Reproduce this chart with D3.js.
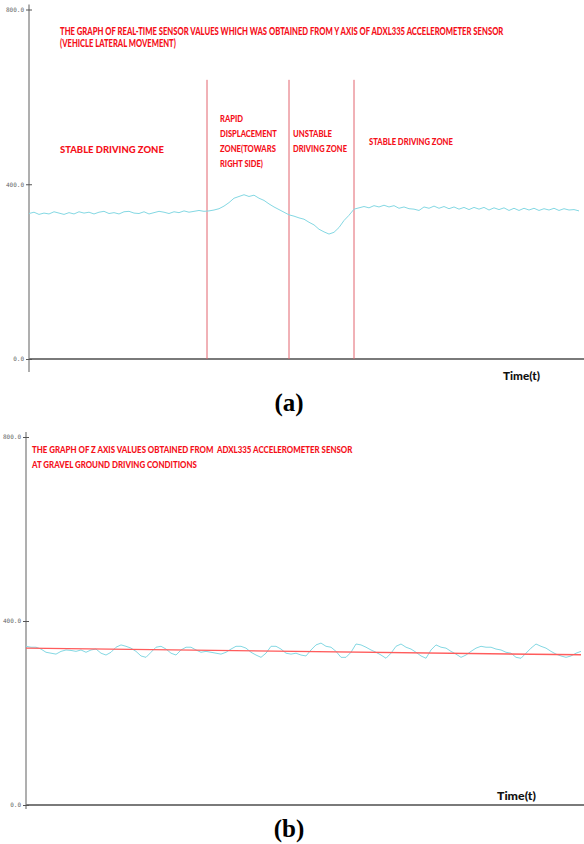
<!DOCTYPE html>
<html><head><meta charset="utf-8">
<script src="https://cdn.jsdelivr.net/npm/d3@7/dist/d3.min.js"></script>
<style>
html,body{margin:0;padding:0;background:#fff;}
svg{display:block;}
.red{font-family:Lato,"Open Sans",sans-serif;font-weight:900;fill:#f5101a;}
.tick text{font-family:"DejaVu Sans Mono",monospace;font-size:6px;fill:#666;}
</style></head>
<body>
<script>
// ---------- DATA ----------
// Panel (a): Y axis sensor values (sample index 0..110)
const yAxisValues = [333,336,331,334,332,337,334,331,335,332,337,334,336,332,336,338,333,335,332,337,338,334,333,337,332,335,338,336,333,337,335,339,336,338,340,338,
  339,341,344,350,358,368,372,376,372,375,368,363,355,348,342,336,330,327,323,320,313,307,297,291,286,290,301,317,329,343,
  346,349,346,351,348,352,348,351,345,348,344,343,340,348,345,350,345,349,344,348,343,347,342,347,343,347,341,346,342,346,
  340,345,340,345,341,345,340,344,341,345,340,344,341,342,339];
const zoneBounds = [35.6, 52, 65];          // sample index of red zone separators
const zoneLines = [
  {t: 6.2,  lines: ["STABLE DRIVING ZONE"]},
  {t: 38.2, lines: ["RAPID","DISPLACEMENT","ZONE(TOWARS","RIGHT SIDE)"]},
  {t: 52.8, lines: ["UNSTABLE","DRIVING ZONE"]},
  {t: 68,   lines: ["STABLE DRIVING ZONE"]}
];
const titleA = ["THE GRAPH OF REAL-TIME SENSOR VALUES WHICH WAS OBTAINED FROM Y AXIS OF ADXL335 ACCELEROMETER SENSOR","(VEHICLE LATERAL MOVEMENT)"];

// Panel (b): Z axis values (sample index 0..111)
const zAxisValues = [345,343,343,339,332,330,328,334,337,336,334,337,332,337,339,330,326,332,343,348,
  345,341,334,324,321,332,343,345,339,330,326,337,343,343,337,332,334,332,330,328,
  332,339,345,345,341,332,326,321,330,345,345,339,330,328,330,326,324,337,348,352,
  345,343,334,321,321,332,350,348,343,337,332,326,319,330,345,350,343,339,332,324,
  319,337,348,343,341,334,328,321,326,334,341,345,343,343,339,337,332,330,321,319,
  330,341,350,345,341,334,328,324,321,324,330,334];
const zTrendT = [0, 111];
const zTrendV = [341, 326.5];
const titleB = ["THE GRAPH OF Z AXIS VALUES OBTAINED FROM  ADXL335 ACCELEROMETER SENSOR","AT GRAVEL GROUND DRIVING CONDITIONS"];

const yTicks = [0, 400, 800];
const xLabel = "Time(t)";
const captions = ["(a)", "(b)"];

// ---------- DRAW ----------
const W = 584, H = 844;
const svg = d3.select("body").append("svg").attr("width", W).attr("height", H);
const cyan = "#84d8e3", zoneRed = "#e2646e", axisGray = "#7a7a7a";

// condensed text: draw at natural size, then squeeze horizontally to target width
function condensed(g, str, x, y, size, width, cls, extra){
  const t = g.append("text").attr("class", cls).attr("font-size", size).attr("x", 0).attr("y", 0).text(str);
  if (extra) extra(t);
  t.attr("xml:space","preserve");
  const len = t.node().getComputedTextLength();
  t.attr("transform", `translate(${x},${y}) scale(${width/len},1)`);
  return t;
}

function panel(cfg){
  const g = svg.append("g");
  const x = d3.scaleLinear().domain(cfg.xDomain).range(cfg.xRange);
  const y = d3.scaleLinear().domain([0, 800]).range(cfg.yRange);
  g.append("line").attr("x1", cfg.xRange[0]).attr("x2", cfg.xRange[0])
    .attr("y1", cfg.yRange[1]-5).attr("y2", cfg.yRange[0]+cfg.axisExt)
    .attr("stroke", axisGray).attr("stroke-width", 1.2);
  g.append("line").attr("x1", cfg.xRange[0]).attr("x2", W)
    .attr("y1", y(0)).attr("y2", y(0))
    .attr("stroke", axisGray).attr("stroke-width", 2);
  const ax = d3.axisLeft(y).tickValues(yTicks).tickFormat(d => d.toFixed(1)).tickSizeInner(3).tickSizeOuter(0).tickPadding(2);
  const axg = g.append("g").attr("transform", `translate(${cfg.xRange[0]},0)`).call(ax);
  axg.select(".domain").remove();
  axg.selectAll(".tick line").attr("x2", 3).attr("x1", -3).attr("stroke", "#555");
  return {g, x, y};
}

// Panel (a)
const A = panel({xDomain:[0,110], xRange:[29,579], yRange:[359,9.5], axisExt:13});
A.g.selectAll(".zone").data(zoneBounds).join("line")
  .attr("x1", d => A.x(d)).attr("x2", d => A.x(d))
  .attr("y1", A.y(639)).attr("y2", A.y(0))
  .attr("stroke", zoneRed).attr("stroke-width", 1);
A.g.append("path").datum(yAxisValues)
  .attr("fill","none").attr("stroke",cyan).attr("stroke-width",1)
  .attr("d", d3.line().x((d,i)=>A.x(i)).y(d=>A.y(d)));

const titleAW = [444, 116];
titleA.forEach((s,i)=>condensed(A.g, s, 60, 34.5+i*12.2, 10.5, titleAW[i], "red"));

const zoneW = [{"STABLE DRIVING ZONE":104},{"RAPID":23,"DISPLACEMENT":57,"ZONE(TOWARS":56,"RIGHT SIDE)":43},{"UNSTABLE":39,"DRIVING ZONE":54},{"STABLE DRIVING ZONE":84}];
const zoneY0 = [153, 121.7, 136.7, 145];
const zoneSize = [10, 9.5, 9.5, 9.5];
zoneLines.forEach((z, k) => {
  z.lines.forEach((s,i)=>condensed(A.g, s, A.x(z.t), zoneY0[k]+i*15, zoneSize[k], zoneW[k][s], "red"));
});
condensed(A.g, xLabel, 503, 379.5, 11.5, 37, null, t=>t.attr("font-family","Lato,sans-serif").attr("font-weight","900").attr("fill","#111"));

// Panel (b)
const B = panel({xDomain:[0,111], xRange:[26,581], yRange:[805,437], axisExt:4});
B.g.append("path").datum(zAxisValues)
  .attr("fill","none").attr("stroke",cyan).attr("stroke-width",1)
  .attr("d", d3.line().x((d,i)=>B.x(i)).y(d=>B.y(d)));
B.g.append("path").datum(zTrendT.map((t,i)=>[t, zTrendV[i]]))
  .attr("fill","none").attr("stroke","#ff5c5c").attr("stroke-width",1.4)
  .attr("d", d3.line().x(d=>B.x(d[0])).y(d=>B.y(d[1])));
const titleBW = [321, 165];
titleB.forEach((s,i)=>condensed(B.g, s, 32, 453+i*15, 9.5, titleBW[i], "red"));
condensed(B.g, xLabel, 497, 800, 11.5, 39, null, t=>t.attr("font-family","Lato,sans-serif").attr("font-weight","900").attr("fill","#111"));

// captions
svg.selectAll(".cap").data(captions).join("text")
  .attr("x", 289).attr("y", (d,i)=> i===0 ? 411 : 837).attr("text-anchor","middle")
  .attr("font-family","'Liberation Serif',serif").attr("font-weight","bold").attr("font-size",25)
  .text(d=>d);
</script>
</body></html>
